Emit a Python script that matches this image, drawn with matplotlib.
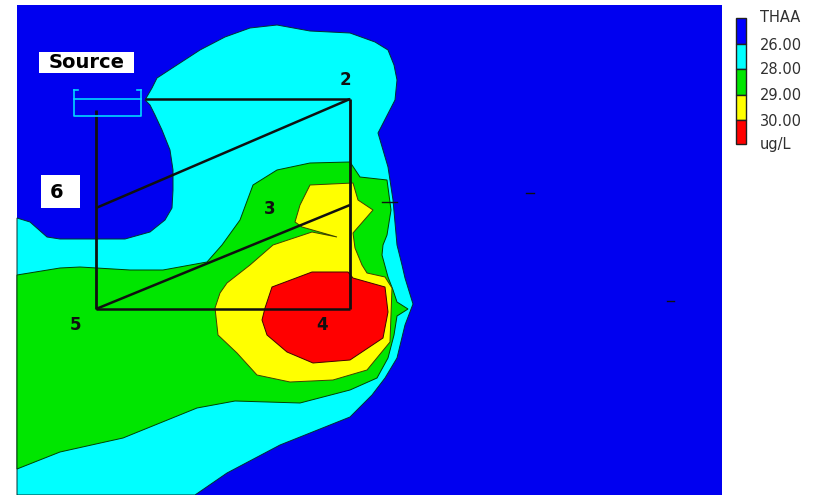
import matplotlib
matplotlib.use('Agg')
import matplotlib.pyplot as plt
from matplotlib.patches import Rectangle

# contour outlines, in image pixels
cyan_x = [17, 30, 47, 60, 125, 150, 165, 172, 173, 173, 170, 162, 155, 150, 145, 152, 157, 200, 225, 250, 277, 310, 350, 375, 388, 394, 397, 395, 378, 388, 393, 397, 402, 405, 413, 405, 397, 385, 372, 350, 280, 227, 195, 17]
cyan_y = [218, 222, 237, 239, 239, 232, 220, 208, 190, 170, 150, 130, 115, 105, 100, 88, 78, 50, 37, 28, 25, 31, 33, 42, 50, 65, 80, 100, 133, 167, 200, 245, 265, 278, 304, 325, 358, 378, 395, 417, 445, 473, 495, 495]

green_x = [17, 60, 80, 130, 163, 207, 222, 240, 253, 277, 310, 350, 360, 387, 391, 387, 383, 382, 388, 393, 397, 408, 397, 394, 388, 377, 350, 300, 235, 197, 123, 60, 17]
green_y = [275, 268, 267, 270, 270, 262, 245, 220, 185, 170, 163, 162, 177, 180, 210, 235, 245, 255, 277, 290, 302, 309, 316, 335, 358, 378, 390, 403, 401, 408, 438, 452, 469]

yellow_x = [310, 353, 358, 373, 353, 355, 362, 367, 385, 392, 391, 390, 367, 333, 290, 257, 237, 218, 215, 220, 227, 250, 273, 312, 337, 302, 295, 300]
yellow_y = [185, 183, 200, 210, 233, 248, 265, 273, 277, 288, 315, 342, 370, 380, 382, 375, 353, 335, 308, 293, 283, 265, 245, 232, 237, 227, 222, 205]

red_x = [312, 348, 353, 385, 388, 383, 350, 313, 287, 267, 262, 265, 272]
red_y = [272, 272, 278, 287, 312, 338, 360, 363, 352, 335, 320, 308, 287]

# transect lines between stations
line_x = [[96, 96], [96, 350], [350, 350], [145, 350], [96, 350], [96, 350]]
line_y = [[110, 309], [309, 309], [309, 99], [99, 99], [208, 99], [309, 205]]

station_labels = ['2', '3', '4', '5']
station_x = [345, 270, 322, 75]
station_y = [80, 209, 325, 325]

dash_x = [[526, 534], [667, 674], [382, 397]]
dash_y = [[193, 193], [301, 301], [202, 202]]

legend_labels = ['THAA', '26.00', '28.00', '29.00', '30.00', 'ug/L']
legend_colors = ['#0000ff', '#00ffff', '#00e600', '#ffff00', '#ff0000']
legend_edges = [18, 44, 69, 95, 120, 144]

fig = plt.figure(figsize=(8.22, 4.95), dpi=100)
ax = fig.add_axes([0, 0, 1, 1])
ax.set_xlim(0, 822)
ax.set_ylim(495, 0)
ax.axis('off')

# map background and filled contours
ax.add_patch(Rectangle((17, 5), 705, 490, fc='#0000f0', ec='none'))
ax.fill(cyan_x, cyan_y, fc='#00ffff', ec='#003030', lw=0.7)
ax.fill(green_x, green_y, fc='#00e600', ec='#004000', lw=0.7)
ax.fill(yellow_x, yellow_y, fc='#ffff00', ec='#404000', lw=0.7)
ax.fill(red_x, red_y, fc='#ff0000', ec='#400000', lw=0.7)

for i in range(len(line_x)):
    lw = 2.0 if i in (0, 2) else 1.8
    ax.plot(line_x[i], line_y[i], color='#101010', lw=lw, solid_capstyle='butt')
for i in range(len(dash_x)):
    ax.plot(dash_x[i], dash_y[i], color='#101010', lw=1.0)

# source bracket
ax.plot([74, 74, 141, 141], [90, 116, 116, 90], color='#00d8ff', lw=1.2)
ax.plot([74, 141], [99, 99], color='#00d8ff', lw=1.2)
ax.plot([74, 78], [90, 90], color='#00d8ff', lw=1.2)
ax.plot([137, 141], [90, 90], color='#00d8ff', lw=1.2)

ax.add_patch(Rectangle((39, 52), 95, 21, fc='white', ec='none'))
ax.text(86.5, 62.5, 'Source', ha='center', va='center', fontsize=14, fontweight='bold', color='black',
        family='DejaVu Sans')
ax.add_patch(Rectangle((41, 175), 39, 33, fc='white', ec='none'))
ax.text(57, 192, '6', ha='center', va='center', fontsize=14, fontweight='bold', color='black')

for i in range(len(station_labels)):
    ax.text(station_x[i], station_y[i], station_labels[i], ha='center', va='center',
            fontsize=12, fontweight='bold', color='#101010')

# legend
for i in range(len(legend_colors)):
    ax.add_patch(Rectangle((736, legend_edges[i]), 10, legend_edges[i + 1] - legend_edges[i],
                           fc=legend_colors[i], ec='#202020', lw=1.0))
for i in range(len(legend_labels)):
    ax.text(760, legend_edges[i] + 1 if i else 18, legend_labels[i], ha='left', va='center',
            fontsize=10.5, color='#303030', family='DejaVu Sans')

fig.savefig('out.png', dpi=100)
